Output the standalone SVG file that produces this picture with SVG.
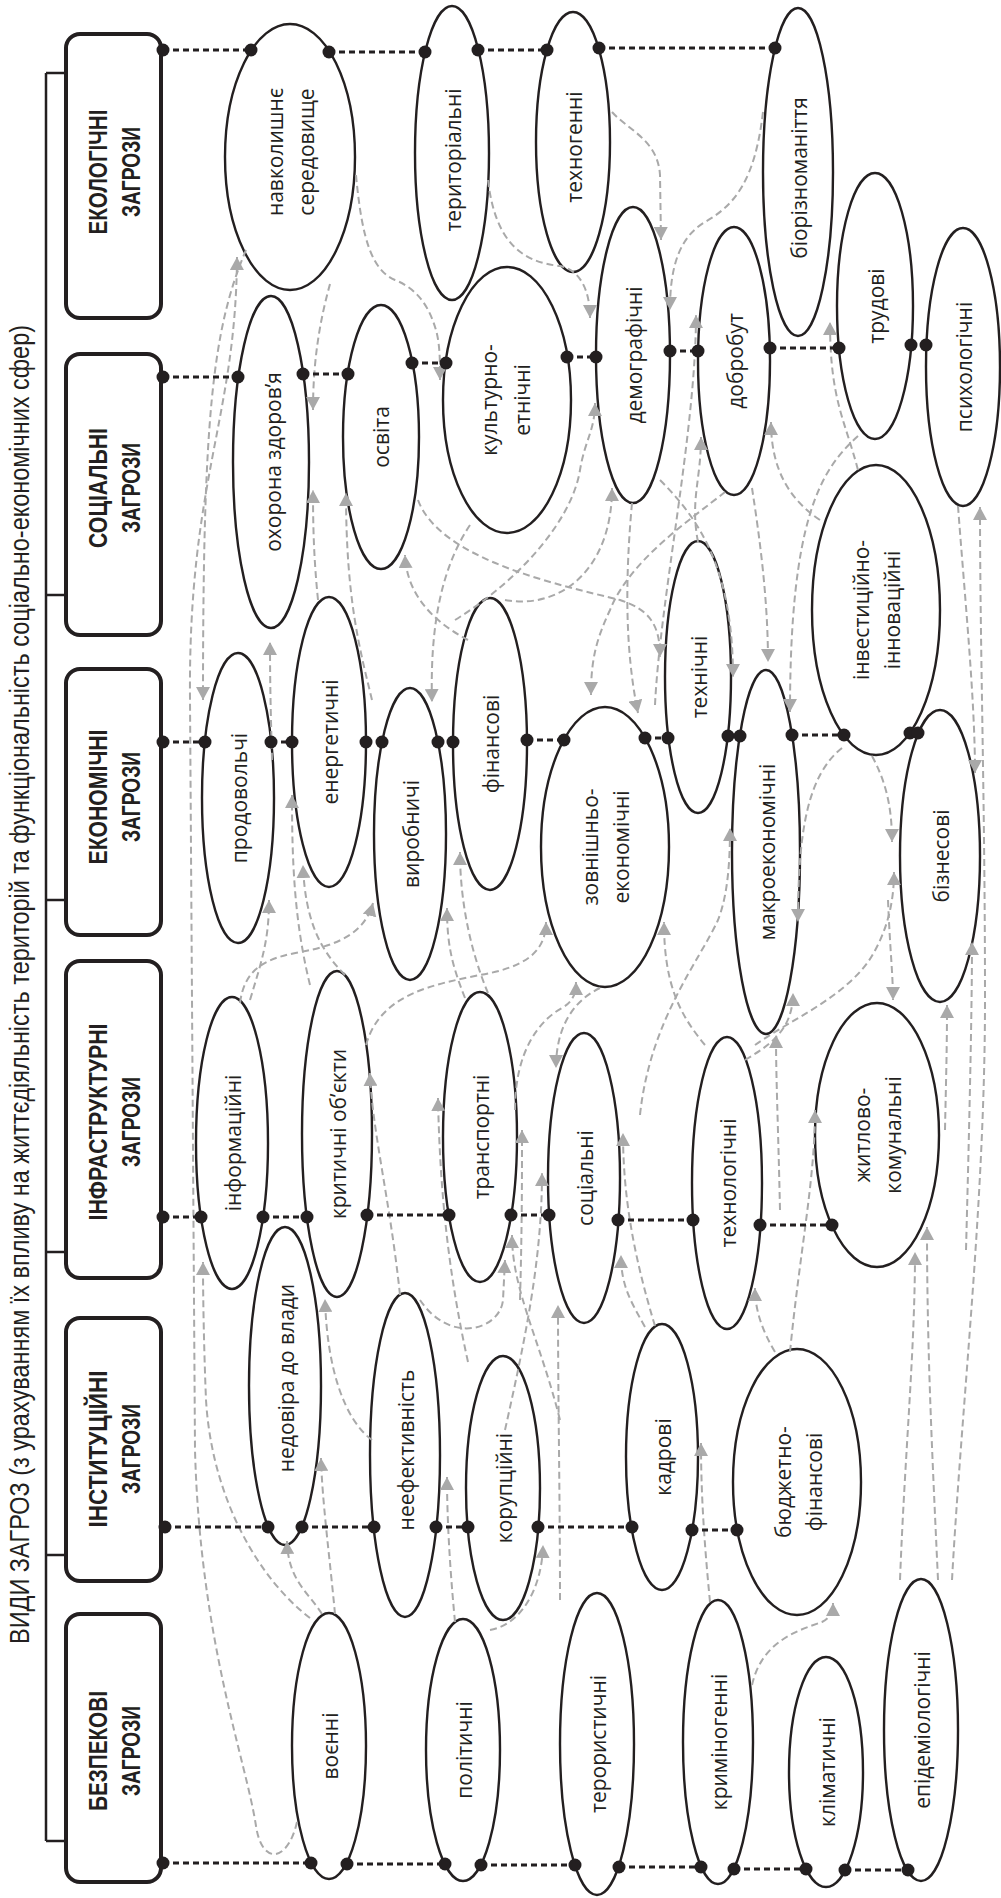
<svg xmlns="http://www.w3.org/2000/svg" width="1001" height="1898" viewBox="0 0 1001 1898">
<defs>
<marker id="ga" markerWidth="13" markerHeight="14" refX="13" refY="7" orient="auto" markerUnits="userSpaceOnUse"><path d="M0,0 L13,7 L0,14 z" fill="#a9a9a9"/></marker>
<style>
.box{fill:#fff;stroke:#231f20;stroke-width:4}
.el{fill:#fff;stroke:#231f20;stroke-width:2.4}
.bt{font-family:"Liberation Sans",Arial,sans-serif;font-weight:bold;font-size:26px;fill:#231f20;text-anchor:middle;dominant-baseline:central}
.et{font-family:"Open Sans","Liberation Sans",sans-serif;font-size:21px;fill:#231f20;text-anchor:middle;dominant-baseline:central}
.tt{font-family:"Liberation Sans",Arial,sans-serif;font-size:27px;fill:#231f20;dominant-baseline:central}
.ch{stroke:#231f20;stroke-width:3;stroke-dasharray:6 4;fill:none}
.dot{fill:#231f20}
.g{fill:none;stroke:#a9a9a9;stroke-width:2;stroke-dasharray:7 4;marker-end:url(#ga)}
.br{stroke:#231f20;stroke-width:2.5;fill:none}
.ah{fill:#231f20}
</style>
</defs>
<rect width="1001" height="1898" fill="#fff"/>

<g id="title">
<text class="tt" transform="translate(20,1644) rotate(-90)" textLength="1319" lengthAdjust="spacingAndGlyphs">ВИДИ ЗАГРОЗ (з урахуванням їх впливу на життєдіяльність територій та функціональність соціально-економічних сфер)</text>
</g>

<g id="bracket">
<line class="br" x1="46" y1="73" x2="46" y2="1841"/>
<line class="br" x1="46" y1="73" x2="70" y2="73"/><polygon class="ah" points="66,63 92,73 66,83"/>
<line class="br" x1="46" y1="595" x2="70" y2="595"/><polygon class="ah" points="66,585 92,595 66,605"/>
<line class="br" x1="46" y1="900" x2="70" y2="900"/><polygon class="ah" points="66,890 92,900 66,910"/>
<line class="br" x1="46" y1="1252" x2="70" y2="1252"/><polygon class="ah" points="66,1242 92,1252 66,1262"/>
<line class="br" x1="46" y1="1555" x2="70" y2="1555"/><polygon class="ah" points="66,1545 92,1555 66,1565"/>
<line class="br" x1="46" y1="1841" x2="70" y2="1841"/><polygon class="ah" points="66,1831 92,1841 66,1851"/>
</g>

<g id="box-ecol"><rect class="box" x="66" y="34" width="95" height="284" rx="14"/>
<text class="bt" transform="translate(98,172) rotate(-90)" textLength="125" lengthAdjust="spacingAndGlyphs">ЕКОЛОГІЧНІ</text>
<text class="bt" transform="translate(131,172) rotate(-90)" textLength="90" lengthAdjust="spacingAndGlyphs">ЗАГРОЗИ</text></g>
<g id="box-soc"><rect class="box" x="66" y="354" width="95" height="281" rx="14"/>
<text class="bt" transform="translate(98,488) rotate(-90)" textLength="120" lengthAdjust="spacingAndGlyphs">СОЦІАЛЬНІ</text>
<text class="bt" transform="translate(131,488) rotate(-90)" textLength="90" lengthAdjust="spacingAndGlyphs">ЗАГРОЗИ</text></g>
<g id="box-econ"><rect class="box" x="66" y="669" width="95" height="266" rx="14"/>
<text class="bt" transform="translate(98,797) rotate(-90)" textLength="135" lengthAdjust="spacingAndGlyphs">ЕКОНОМІЧНІ</text>
<text class="bt" transform="translate(131,797) rotate(-90)" textLength="90" lengthAdjust="spacingAndGlyphs">ЗАГРОЗИ</text></g>
<g id="box-infr"><rect class="box" x="66" y="961" width="95" height="317" rx="14"/>
<text class="bt" transform="translate(98,1122) rotate(-90)" textLength="197" lengthAdjust="spacingAndGlyphs">ІНФРАСТРУКТУРНІ</text>
<text class="bt" transform="translate(131,1122) rotate(-90)" textLength="90" lengthAdjust="spacingAndGlyphs">ЗАГРОЗИ</text></g>
<g id="box-inst"><rect class="box" x="66" y="1318" width="95" height="263" rx="14"/>
<text class="bt" transform="translate(98,1449) rotate(-90)" textLength="157" lengthAdjust="spacingAndGlyphs">ІНСТИТУЦІЙНІ</text>
<text class="bt" transform="translate(131,1449) rotate(-90)" textLength="90" lengthAdjust="spacingAndGlyphs">ЗАГРОЗИ</text></g>
<g id="box-bezp"><rect class="box" x="66" y="1614" width="95" height="268" rx="14"/>
<text class="bt" transform="translate(98,1751) rotate(-90)" textLength="120" lengthAdjust="spacingAndGlyphs">БЕЗПЕКОВІ</text>
<text class="bt" transform="translate(131,1751) rotate(-90)" textLength="90" lengthAdjust="spacingAndGlyphs">ЗАГРОЗИ</text></g>

<g id="n-navk"><ellipse class="el" cx="290" cy="157" rx="65" ry="133"/><text class="et" transform="translate(275,152) rotate(-90)">навколишнє</text><text class="et" transform="translate(306,152) rotate(-90)">середовище</text></g>
<g id="n-ter"><ellipse class="el" cx="452" cy="153" rx="37" ry="147"/><text class="et" transform="translate(453,160) rotate(-90)">територіальні</text></g>
<g id="n-tech"><ellipse class="el" cx="573" cy="142" rx="37" ry="130"/><text class="et" transform="translate(574,147) rotate(-90)">техногенні</text></g>
<g id="n-bio"><ellipse class="el" cx="798" cy="172" rx="35" ry="164"/><text class="et" transform="translate(799,178) rotate(-90)">біорізноманіття</text></g>

<g id="n-ohor"><ellipse class="el" cx="271" cy="462" rx="38" ry="166"/><text class="et" transform="translate(273,462) rotate(-90)">охорона здоров’я</text></g>
<g id="n-osv"><ellipse class="el" cx="381" cy="437" rx="38" ry="132"/><text class="et" transform="translate(381,437) rotate(-90)">освіта</text></g>
<g id="n-kult"><ellipse class="el" cx="507" cy="400" rx="64" ry="133"/><text class="et" transform="translate(489,400) rotate(-90)">культурно-</text><text class="et" transform="translate(522,400) rotate(-90)">етнічні</text></g>
<g id="n-demo"><ellipse class="el" cx="633" cy="355" rx="37" ry="148"/><text class="et" transform="translate(634,355) rotate(-90)">демографічні</text></g>
<g id="n-dobr"><ellipse class="el" cx="734" cy="361" rx="36" ry="134"/><text class="et" transform="translate(735,361) rotate(-90)">добробут</text></g>
<g id="n-trud"><ellipse class="el" cx="875" cy="306" rx="38" ry="133"/><text class="et" transform="translate(876,306) rotate(-90)">трудові</text></g>
<g id="n-psyh"><ellipse class="el" cx="963" cy="367" rx="37" ry="139"/><text class="et" transform="translate(964,367) rotate(-90)">психологічні</text></g>

<g id="n-prod"><ellipse class="el" cx="238" cy="798" rx="36" ry="145"/><text class="et" transform="translate(239,798) rotate(-90)">продовольчі</text></g>
<g id="n-energ"><ellipse class="el" cx="329" cy="742" rx="37" ry="145"/><text class="et" transform="translate(330,742) rotate(-90)">енергетичні</text></g>
<g id="n-vyrob"><ellipse class="el" cx="410" cy="834" rx="36" ry="146"/><text class="et" transform="translate(411,834) rotate(-90)">виробничі</text></g>
<g id="n-fin"><ellipse class="el" cx="490" cy="744" rx="37" ry="146"/><text class="et" transform="translate(491,744) rotate(-90)">фінансові</text></g>
<g id="n-zovn"><ellipse class="el" cx="605" cy="847" rx="64" ry="140"/><text class="et" transform="translate(590,847) rotate(-90)">зовнішньо-</text><text class="et" transform="translate(621,847) rotate(-90)">економічні</text></g>
<g id="n-tehn"><ellipse class="el" cx="698" cy="677" rx="33" ry="136"/><text class="et" transform="translate(699,677) rotate(-90)">технічні</text></g>
<g id="n-makro"><ellipse class="el" cx="766" cy="852" rx="34" ry="182"/><text class="et" transform="translate(767,852) rotate(-90)">макроекономічні</text></g>
<g id="n-invest"><ellipse class="el" cx="876" cy="610" rx="64" ry="145"/><text class="et" transform="translate(861,610) rotate(-90)">інвестиційно-</text><text class="et" transform="translate(892,610) rotate(-90)">інноваційні</text></g>
<g id="n-bizn"><ellipse class="el" cx="940" cy="856" rx="40" ry="146"/><text class="et" transform="translate(941,856) rotate(-90)">бізнесові</text></g>

<g id="n-inform"><ellipse class="el" cx="232" cy="1143" rx="36" ry="146"/><text class="et" transform="translate(233,1143) rotate(-90)">інформаційні</text></g>
<g id="n-kryt"><ellipse class="el" cx="337" cy="1134" rx="35" ry="163"/><text class="et" transform="translate(338,1134) rotate(-90)">критичні об’єкти</text></g>
<g id="n-transp"><ellipse class="el" cx="480" cy="1137" rx="37" ry="145"/><text class="et" transform="translate(481,1137) rotate(-90)">транспортні</text></g>
<g id="n-socialni"><ellipse class="el" cx="584" cy="1178" rx="36" ry="145"/><text class="et" transform="translate(585,1178) rotate(-90)">соціальні</text></g>
<g id="n-tehnol"><ellipse class="el" cx="727" cy="1183" rx="35" ry="146"/><text class="et" transform="translate(728,1183) rotate(-90)">технологічні</text></g>
<g id="n-zhytl"><ellipse class="el" cx="877" cy="1135" rx="62" ry="132"/><text class="et" transform="translate(862,1135) rotate(-90)">житлово-</text><text class="et" transform="translate(893,1135) rotate(-90)">комунальні</text></g>

<g id="n-nedov"><ellipse class="el" cx="285" cy="1386" rx="36" ry="159"/><text class="et" transform="translate(286,1378) rotate(-90)">недовіра до влади</text></g>
<g id="n-neef"><ellipse class="el" cx="405" cy="1455" rx="35" ry="162"/><text class="et" transform="translate(406,1450) rotate(-90)">неефективність</text></g>
<g id="n-korup"><ellipse class="el" cx="503" cy="1488" rx="37" ry="132"/><text class="et" transform="translate(504,1488) rotate(-90)">корупційні</text></g>
<g id="n-kadr"><ellipse class="el" cx="662" cy="1457" rx="36" ry="133"/><text class="et" transform="translate(663,1457) rotate(-90)">кадрові</text></g>
<g id="n-budzh"><ellipse class="el" cx="797" cy="1482" rx="64" ry="133"/><text class="et" transform="translate(783,1482) rotate(-90)">бюджетно-</text><text class="et" transform="translate(814,1482) rotate(-90)">фінансові</text></g>

<g id="n-voen"><ellipse class="el" cx="329" cy="1746" rx="37" ry="133"/><text class="et" transform="translate(330,1746) rotate(-90)">воєнні</text></g>
<g id="n-polit"><ellipse class="el" cx="463" cy="1750" rx="37" ry="131"/><text class="et" transform="translate(464,1750) rotate(-90)">політичні</text></g>
<g id="n-teror"><ellipse class="el" cx="597" cy="1744" rx="37" ry="151"/><text class="et" transform="translate(598,1744) rotate(-90)">терористичні</text></g>
<g id="n-krym"><ellipse class="el" cx="718" cy="1742" rx="35" ry="142"/><text class="et" transform="translate(719,1742) rotate(-90)">криміногенні</text></g>
<g id="n-klim"><ellipse class="el" cx="826" cy="1772" rx="37" ry="115"/><text class="et" transform="translate(827,1772) rotate(-90)">кліматичні</text></g>
<g id="n-epid"><ellipse class="el" cx="921" cy="1730" rx="37" ry="151"/><text class="et" transform="translate(922,1730) rotate(-90)">епідеміологічні</text></g>

<g id="links">
<path class="g" d="M297,1822 C288,1862 262,1866 256,1826 C246,1760 200,1640 195,1450 L190,700 C188,480 236,420 237,257"/>
<path class="g" d="M356,175 C362,240 372,270 395,280 C420,290 430,310 436,330 C440,345 440,360 440,380"/>
<path class="g" d="M488,180 C495,240 520,262 560,266 C580,270 590,290 590,318"/>
<path class="g" d="M612,112 C628,130 658,140 660,175 L661,240"/>
<path class="g" d="M763,112 C755,180 735,205 705,222 C680,237 670,265 670,310"/>
<path class="g" d="M655,705 C660,600 696,430 696,315"/>
<path class="g" d="M858,470 C845,420 830,400 830,322"/>
<path class="g" d="M330,284 C320,320 313,360 313,410"/>
<path class="g" d="M318,600 C314,560 313,530 313,490"/>
<path class="g" d="M372,700 C360,650 346,600 346,493"/>
<path class="g" d="M468,640 C440,625 407,600 405,555"/>
<path class="g" d="M272,760 C271,720 270,690 270,642"/>
<path class="g" d="M246,250 C212,330 203,420 203,700"/>
<path class="g" d="M470,525 C440,570 430,630 432,702"/>
<path class="g" d="M455,620 C520,580 572,520 580,470 C585,440 595,430 595,403"/>
<path class="g" d="M505,600 C560,610 612,570 612,488"/>
<path class="g" d="M698,542 C690,500 701,480 701,437"/>
<path class="g" d="M820,520 C790,500 771,470 771,422"/>
<path class="g" d="M418,500 C440,560 560,585 620,600 C650,610 660,625 660,657"/>
<path class="g" d="M725,492 C690,520 630,560 610,610 C596,640 591,660 591,695"/>
<path class="g" d="M632,503 C625,580 625,650 638,713"/>
<path class="g" d="M660,480 C700,520 733,570 733,677"/>
<path class="g" d="M752,488 C760,540 768,600 768,662"/>
<path class="g" d="M858,436 C820,470 790,520 790,712"/>
<path class="g" d="M952,1580 C962,1400 985,1200 985,1000 C985,800 980,650 980,507"/>
<path class="g" d="M958,506 C965,600 975,700 975,773"/>
<path class="g" d="M310,985 C294,920 292,860 292,795"/>
<path class="g" d="M345,975 C320,950 305,920 303,865"/>
<path class="g" d="M250,1000 C262,960 269,940 269,900"/>
<path class="g" d="M240,1003 C245,965 270,958 300,952 C340,945 365,932 373,903"/>
<path class="g" d="M465,998 C452,965 447,945 447,908"/>
<path class="g" d="M488,993 C470,950 460,900 460,852"/>
<path class="g" d="M366,1045 C380,995 430,985 480,975 C520,968 546,955 546,922"/>
<path class="g" d="M705,1045 C680,1015 664,985 664,922"/>
<path class="g" d="M640,1115 C650,1020 700,960 718,920 C728,895 730,860 730,828"/>
<path class="g" d="M842,748 C808,775 798,830 798,922"/>
<path class="g" d="M872,756 C885,780 892,805 892,842"/>
<path class="g" d="M755,1045 C790,1020 840,1000 868,962 C886,935 894,905 894,872"/>
<path class="g" d="M888,900 C890,950 893,975 893,1000"/>
<path class="g" d="M945,1130 C946,1080 947,1050 947,1005"/>
<path class="g" d="M966,1250 C970,1100 972,1000 972,942"/>
<path class="g" d="M515,1110 C515,1050 540,1020 562,1008 C572,1002 576,995 576,982"/>
<path class="g" d="M745,1060 C770,1045 793,1030 793,993"/>
<path class="g" d="M780,1210 C778,1120 776,1080 776,1035"/>
<path class="g" d="M400,1295 C390,1200 372,1130 370,1073"/>
<path class="g" d="M468,1362 C450,1280 440,1200 438,1098"/>
<path class="g" d="M600,988 C575,1000 556,1025 556,1068"/>
<path class="g" d="M520,1300 C522,1230 522,1180 522,1130"/>
<path class="g" d="M655,1326 C635,1260 623,1200 623,1133"/>
<path class="g" d="M790,1352 C800,1250 815,1180 815,1110"/>
<path class="g" d="M310,1618 C260,1580 212,1500 206,1400 C204,1350 203,1300 203,1262"/>
<path class="g" d="M372,1440 C345,1420 327,1370 325,1299"/>
<path class="g" d="M335,1614 C330,1560 322,1500 321,1458"/>
<path class="g" d="M455,1622 C450,1570 447,1520 447,1477"/>
<path class="g" d="M420,1300 C450,1345 500,1330 503,1300 L505,1260"/>
<path class="g" d="M560,1420 C540,1340 512,1290 512,1235"/>
<path class="g" d="M505,1430 C525,1340 542,1260 542,1173"/>
<path class="g" d="M560,1600 C560,1500 558,1400 558,1305"/>
<path class="g" d="M645,1327 C630,1300 621,1285 621,1255"/>
<path class="g" d="M775,1352 C762,1330 755,1310 755,1288"/>
<path class="g" d="M710,1602 C705,1550 701,1500 701,1443"/>
<path class="g" d="M900,1580 C905,1450 915,1350 915,1252"/>
<path class="g" d="M938,1580 C932,1450 927,1350 927,1227"/>
<path class="g" d="M322,1614 C308,1592 288,1580 287,1541"/>
<path class="g" d="M490,1630 C520,1625 542,1590 543,1545"/>
<path class="g" d="M752,1685 C762,1640 800,1630 822,1622 C830,1618 833,1612 833,1603"/>
</g>

<g id="chains">
<path class="ch" d="M163,50H251 M329,52H425 M478,50H547 M599,48H775"/>
<path class="ch" d="M163,377H238 M303,374H348 M412,363H446 M567,357H596 M670,351H698 M770,348H839 M911,345H926"/>
<path class="ch" d="M163,742H205 M271,742H292 M366,742H382 M438,742H453 M527,740H564 M645,738H668 M728,736H740 M792,735H844 M910,733H918"/>
<path class="ch" d="M163,1217H201 M263,1217H307 M367,1215H449 M511,1215H549 M618,1220H693 M760,1225H832"/>
<path class="ch" d="M165,1527H268 M302,1527H374 M436,1527H468 M538,1527H632 M692,1530H737"/>
<path class="ch" d="M163,1863H311 M347,1864H445 M481,1865H575 M619,1867H701 M734,1869H806 M845,1870H908"/>
<g class="dot">
<circle cx="163" cy="50" r="6.5"/><circle cx="251" cy="50" r="6.5"/><circle cx="329" cy="52" r="6.5"/><circle cx="425" cy="52" r="6.5"/><circle cx="478" cy="50" r="6.5"/><circle cx="547" cy="50" r="6.5"/><circle cx="599" cy="48" r="6.5"/><circle cx="775" cy="48" r="6.5"/>
<circle cx="163" cy="377" r="6.5"/><circle cx="238" cy="377" r="6.5"/><circle cx="303" cy="374" r="6.5"/><circle cx="348" cy="374" r="6.5"/><circle cx="412" cy="363" r="6.5"/><circle cx="446" cy="363" r="6.5"/><circle cx="567" cy="357" r="6.5"/><circle cx="596" cy="357" r="6.5"/><circle cx="670" cy="351" r="6.5"/><circle cx="698" cy="351" r="6.5"/><circle cx="770" cy="348" r="6.5"/><circle cx="839" cy="348" r="6.5"/><circle cx="911" cy="345" r="6.5"/><circle cx="926" cy="345" r="6.5"/>
<circle cx="163" cy="742" r="6.5"/><circle cx="205" cy="742" r="6.5"/><circle cx="271" cy="742" r="6.5"/><circle cx="292" cy="742" r="6.5"/><circle cx="366" cy="742" r="6.5"/><circle cx="382" cy="742" r="6.5"/><circle cx="438" cy="742" r="6.5"/><circle cx="453" cy="742" r="6.5"/><circle cx="527" cy="740" r="6.5"/><circle cx="564" cy="740" r="6.5"/><circle cx="645" cy="738" r="6.5"/><circle cx="668" cy="738" r="6.5"/><circle cx="728" cy="736" r="6.5"/><circle cx="740" cy="736" r="6.5"/><circle cx="792" cy="735" r="6.5"/><circle cx="844" cy="735" r="6.5"/><circle cx="910" cy="733" r="6.5"/><circle cx="918" cy="733" r="6.5"/>
<circle cx="163" cy="1217" r="6.5"/><circle cx="201" cy="1217" r="6.5"/><circle cx="263" cy="1217" r="6.5"/><circle cx="307" cy="1217" r="6.5"/><circle cx="367" cy="1215" r="6.5"/><circle cx="449" cy="1215" r="6.5"/><circle cx="511" cy="1215" r="6.5"/><circle cx="549" cy="1215" r="6.5"/><circle cx="618" cy="1220" r="6.5"/><circle cx="693" cy="1220" r="6.5"/><circle cx="760" cy="1225" r="6.5"/><circle cx="832" cy="1225" r="6.5"/>
<circle cx="165" cy="1527" r="6.5"/><circle cx="268" cy="1527" r="6.5"/><circle cx="302" cy="1527" r="6.5"/><circle cx="374" cy="1527" r="6.5"/><circle cx="436" cy="1527" r="6.5"/><circle cx="468" cy="1527" r="6.5"/><circle cx="538" cy="1527" r="6.5"/><circle cx="632" cy="1527" r="6.5"/><circle cx="692" cy="1530" r="6.5"/><circle cx="737" cy="1530" r="6.5"/>
<circle cx="163" cy="1863" r="6.5"/><circle cx="311" cy="1863" r="6.5"/><circle cx="347" cy="1864" r="6.5"/><circle cx="445" cy="1864" r="6.5"/><circle cx="481" cy="1865" r="6.5"/><circle cx="575" cy="1865" r="6.5"/><circle cx="619" cy="1867" r="6.5"/><circle cx="701" cy="1867" r="6.5"/><circle cx="734" cy="1869" r="6.5"/><circle cx="806" cy="1869" r="6.5"/><circle cx="845" cy="1870" r="6.5"/><circle cx="908" cy="1870" r="6.5"/>
</g>
</g>
</svg>
